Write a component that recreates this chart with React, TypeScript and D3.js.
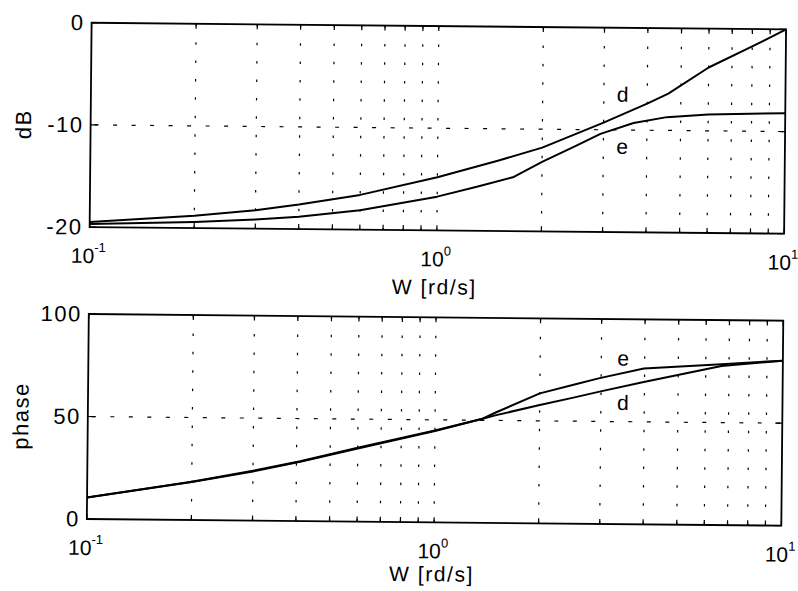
import React from 'react';
import * as d3 from 'd3';

// ---- data ----
const freqDecades = [0.1, 1, 10];
const decadeExponents = ['-1', '0', '1'];

const magTicks = [0, -10, -20];
const phaseTicks = [0, 50, 100];

const wMagD = [0.1, 0.2, 0.3, 0.4, 0.6, 1, 1.5, 2, 3, 4, 4.6, 6, 8, 10];
const magD = [-19.5, -18.8, -18.2, -17.6, -16.6, -14.8, -13.1, -11.8, -9.3, -7.4, -6.4, -3.8, -1.7, 0];

const wMagE = [0.1, 0.2, 0.3, 0.4, 0.6, 1, 1.3, 1.66, 2, 2.5, 2.94, 3.66, 4.56, 6, 10];
const magE = [-19.7, -19.4, -19.1, -18.8, -18.1, -16.7, -15.7, -14.7, -13.2, -11.6, -10.4, -9.3, -8.7, -8.4, -8.2];

const wPh = [0.1, 0.2, 0.3, 0.41, 0.6, 1, 1.37, 1.5, 2, 2.5, 2.95, 3.98, 6.66, 10];
const phaseD = [10.5, 18.5, 24, 28.9, 35.7, 44.6, 50.8, 52.6, 57.7, 61.5, 64.4, 69.4, 77.6, 80.5];
const phaseE = [10.5, 18.7, 24.3, 29.2, 36, 44.8, 50.8, 54, 63.4, 67.8, 71, 76, 78.5, 80.5];

const magLabels = [
  { text: 'd', w: 3.4, v: -6.5 },
  { text: 'e', w: 3.4, v: -11.6 },
];
const phaseLabels = [
  { text: 'e', w: 3.47, v: 81 },
  { text: 'd', w: 3.47, v: 59.3 },
];

const xLabel = 'W [rd/s]';
const FONT = '"Liberation Sans", Arial, Helvetica, sans-serif';

type Series = { w: number[]; v: number[] };

function Panel(props: {
  top: number;
  bottom: number;
  yDomain: [number, number];
  yTicks: number[];
  gridY: number;
  yLabel: string;
  series: Series[];
  labels: { text: string; w: number; v: number }[];
  xLabelOffset: number;
}) {
  const left = 89;
  const right = 783.5;
  const { top, bottom } = props;
  const x = d3.scaleLog().domain([0.1, 10]).range([left, right]);
  const y = d3.scaleLinear().domain(props.yDomain).range([bottom, top]);
  const gridX = x.ticks().filter((t) => t > 0.1 + 1e-9 && t < 10 - 1e-9);
  const line = d3
    .line<[number, number]>()
    .x((d) => x(d[0]))
    .y((d) => y(d[1]))
    .curve(d3.curveLinear);
  const midY = (top + bottom) / 2;
  return (
    <g>
      {/* grid */}
      {gridX.map((t, i) => (
        <line
          key={'gx' + i}
          x1={x(t)}
          x2={x(t)}
          y1={top}
          y2={bottom}
          stroke="#000"
          strokeWidth={1.2}
          strokeDasharray="2.5 15.9"
        />
      ))}
      <line
        x1={left}
        x2={right}
        y1={y(props.gridY)}
        y2={y(props.gridY)}
        stroke="#000"
        strokeWidth={1.2}
        strokeDasharray="4 14.5"
        strokeDashoffset={-4}
      />
      {/* minor/major ticks inside */}
      {x.ticks().map((t, i) => (
        <g key={'tx' + i}>
          <line x1={x(t)} x2={x(t)} y1={bottom} y2={bottom - 5} stroke="#000" strokeWidth={1.2} />
          <line x1={x(t)} x2={x(t)} y1={top} y2={top + 5} stroke="#000" strokeWidth={1.2} />
        </g>
      ))}
      {props.yTicks.map((t, i) => (
        <g key={'ty' + i}>
          <line x1={left} x2={left + 7} y1={y(t)} y2={y(t)} stroke="#000" strokeWidth={1.2} />
          <line x1={right} x2={right - 7} y1={y(t)} y2={y(t)} stroke="#000" strokeWidth={1.2} />
        </g>
      ))}
      {/* curves */}
      {props.series.map((s, i) => (
        <path
          key={'s' + i}
          d={line(s.w.map((w, j) => [w, s.v[j]] as [number, number])) || ''}
          fill="none"
          stroke="#000"
          strokeWidth={2}
          strokeLinejoin="round"
        />
      ))}
      {/* axes box */}
      <rect x={left} y={top} width={right - left} height={bottom - top} fill="none" stroke="#000" strokeWidth={1.8} />
      {/* y tick labels */}
      {props.yTicks.map((t, i) => (
        <text
          key={'yl' + i}
          x={left - 7}
          y={y(t)}
          textAnchor="end"
          dominantBaseline="central"
          fontSize={22}
          letterSpacing={1.5}
          fontFamily={FONT}
        >
          {String(t)}
        </text>
      ))}
      {/* x tick labels */}
      {freqDecades.map((t, i) => (
        <text
          key={'xl' + i}
          x={x(t) - 1}
          y={bottom + 36}
          textAnchor="middle"
          fontSize={21}
          fontFamily={FONT}
        >
          <tspan>10</tspan>
          <tspan dy={-11} fontSize={13}>
            {decadeExponents[i]}
          </tspan>
        </text>
      ))}
      {/* axis labels */}
      <text
        x={(left + right) / 2 - 2}
        y={bottom + props.xLabelOffset}
        textAnchor="middle"
        fontSize={21}
        letterSpacing={1.6}
        fontFamily={FONT}
      >
        {xLabel}
      </text>
      <text
        transform={`translate(22,${midY}) rotate(-90)`}
        textAnchor="middle"
        dominantBaseline="central"
        fontSize={22}
        letterSpacing={1.5}
        fontFamily={FONT}
      >
        {props.yLabel}
      </text>
      {/* curve labels */}
      {props.labels.map((l, i) => (
        <text
          key={'cl' + i}
          x={x(l.w)}
          y={y(l.v)}
          textAnchor="middle"
          dominantBaseline="central"
          fontSize={21}
          fontFamily={FONT}
        >
          {l.text}
        </text>
      ))}
    </g>
  );
}

export default function App() {
  return (
    <svg
      width={798}
      height={591}
      style={{ position: 'absolute', left: 0, top: 0, background: '#fff' }}
    >
      <rect x={0} y={0} width={798} height={591} fill="#fff" />
      <g transform="rotate(0.55 399 295)">
        <Panel
          top={25.7}
          bottom={230}
          yDomain={[-20, 0]}
          yTicks={magTicks}
          gridY={-10}
          yLabel="dB"
          series={[
            { w: wMagD, v: magD },
            { w: wMagE, v: magE },
          ]}
          labels={magLabels}
          xLabelOffset={64}
        />
        <Panel
          top={317}
          bottom={522}
          yDomain={[0, 100]}
          yTicks={phaseTicks}
          gridY={50}
          yLabel="phase"
          series={[
            { w: wPh, v: phaseD },
            { w: wPh, v: phaseE },
          ]}
          labels={phaseLabels}
          xLabelOffset={59}
        />
      </g>
    </svg>
  );
}
